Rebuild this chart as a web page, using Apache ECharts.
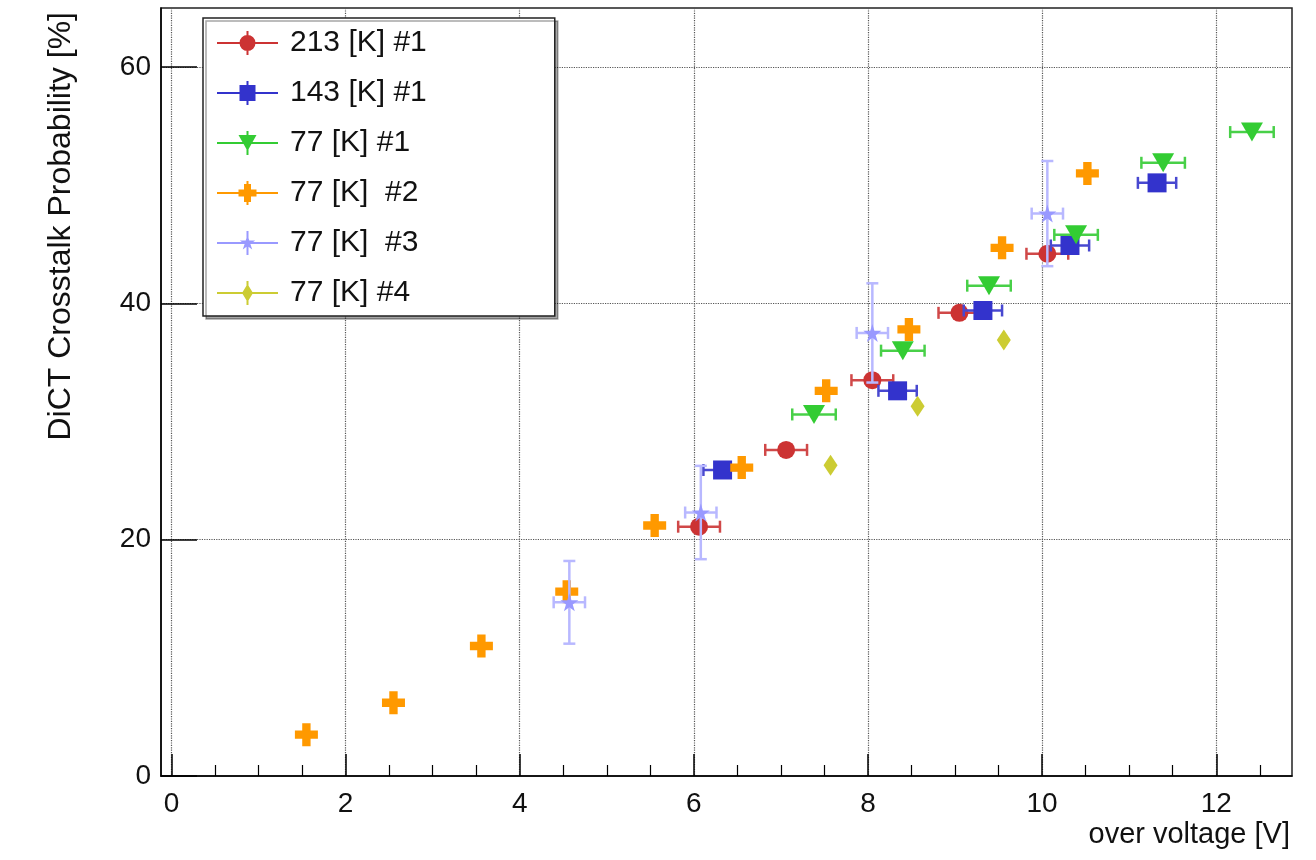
<!DOCTYPE html>
<html>
<head>
<meta charset="utf-8">
<script src="https://cdn.jsdelivr.net/npm/echarts@6/dist/echarts.min.js"></script>
<style>html,body{margin:0;padding:0;background:#fff}#c{width:1316px;height:860px}</style>
</head>
<body>
<div id="c"></div>
<script>
// ---- data ----
const seriesNames = ['213 [K] #1', '143 [K] #1', '77 [K] #1', '77 [K]  #2', '77 [K]  #3', '77 [K] #4'];

const redX = [6.06, 7.06, 8.05, 9.05, 10.06];
const redY = [21.1, 27.6, 33.5, 39.2, 44.2];
const redXErr = [0.24, 0.24, 0.24, 0.24, 0.24];
const redYErr = [0.3, 0.3, 0.3, 0.3, 0.3];

const blueX = [6.33, 8.34, 9.32, 10.32, 11.32];
const blueY = [25.9, 32.6, 39.4, 44.9, 50.2];
const blueXErr = [0.22, 0.22, 0.22, 0.22, 0.22];
const blueYErr = [0.3, 0.3, 0.3, 0.3, 0.3];

const greenX = [7.38, 8.40, 9.39, 10.39, 11.39, 12.41];
const greenY = [30.6, 36.0, 41.5, 45.8, 51.9, 54.5];
const greenXErr = [0.25, 0.25, 0.25, 0.25, 0.25, 0.25];
const greenYErr = [0, 0, 0, 0, 0, 0];

const orangeX = [1.55, 2.55, 3.56, 4.54, 5.55, 6.55, 7.52, 8.47, 9.54, 10.52];
const orangeY = [3.5, 6.2, 11.0, 15.6, 21.2, 26.1, 32.6, 37.8, 44.7, 51.0];
const orangeXErr = [0, 0, 0, 0, 0, 0, 0, 0, 0, 0];
const orangeYErr = [0, 0, 0, 0, 0, 0, 0, 0, 0, 0];

const starX = [4.57, 6.08, 8.05, 10.06];
const starY = [14.7, 22.3, 37.5, 47.6];
const starXErr = [0.18, 0.18, 0.18, 0.18];
const starYErr = [3.5, 3.95, 4.2, 4.45];

const oliveX = [7.57, 8.57, 9.56];
const oliveY = [26.3, 31.3, 36.9];
const oliveXErr = [0, 0, 0];
const oliveYErr = [0, 0, 0];

const xMajorTicks = [0, 2, 4, 6, 8, 10, 12];
const xMinorTicks = [0.5, 1, 1.5, 2.5, 3, 3.5, 4.5, 5, 5.5, 6.5, 7, 7.5, 8.5, 9, 9.5, 10.5, 11, 11.5, 12.5];
const yTicks = [0, 20, 40, 60];

// ---- styling ----
const FONT = "'Liberation Sans', Arial, Helvetica, sans-serif";
const colors = ['#cc3333', '#3333cc', '#33cc33', '#ff9900', '#9999ff', '#cccc33'];
const errColors = ['#d04848', '#4848d0', '#48d048', '#ff9900', '#b8b8ff', '#cccc33'];
const starPath = 'path://M50,0 L61,35 L98,35 L68,57 L79,91 L50,70 L21,91 L32,57 L2,35 L39,35 Z';
const crossPath = 'path://M7,0 H15 V7 H22 V15 H15 V22 H7 V15 H0 V7 H7 Z';
const symbols = [
  {symbol: 'circle', size: 18, rotate: 0},
  {symbol: 'rect', size: 19, rotate: 0},
  {symbol: 'triangle', size: [22, 19], rotate: 180},
  {symbol: crossPath, size: 23, rotate: 0},
  {symbol: starPath, size: 18, rotate: 0},
  {symbol: 'diamond', size: [14, 21], rotate: 0}
];

const LINE = 'M0,11 H61 V13 H0 Z ';
const VBAR = 'M29.5,0 H31.5 V24 H29.5 Z ';
const legendIcons = [
  'path://' + LINE + VBAR + 'M22.5,12 A8,8 0 1,1 38.5,12 A8,8 0 1,1 22.5,12 Z',
  'path://' + LINE + VBAR + 'M22.5,4 H38.5 V20 H22.5 Z',
  'path://' + LINE + VBAR + 'M21.5,4 H39.5 L30.5,20 Z',
  'path://' + LINE + VBAR + 'M27,3 H34 V8.5 H39.5 V15.5 H34 V21 H27 V15.5 H21.5 V8.5 H27 Z',
  'path://' + LINE + VBAR + 'M30.5,4 L32.3,9.6 L38.2,9.6 L33.4,13 L35.2,18.5 L30.5,15.1 L25.8,18.5 L27.6,13 L22.8,9.6 L28.7,9.6 Z',
  'path://' + LINE + VBAR + 'M30.5,3 L36,12 L30.5,21 L25,12 Z'
];

const allX = [redX, blueX, greenX, orangeX, starX, oliveX];
const allY = [redY, blueY, greenY, orangeY, starY, oliveY];
const allXE = [redXErr, blueXErr, greenXErr, orangeXErr, starXErr, oliveXErr];
const allYE = [redYErr, blueYErr, greenYErr, orangeYErr, starYErr, oliveYErr];

function errRender(color) {
  return function (params, api) {
    const x = api.value(0), y = api.value(1), dx = api.value(2), dy = api.value(3);
    const children = [];
    const st = {stroke: color, lineWidth: 2.5};
    const cap = 6;
    if (dx > 0) {
      const l = api.coord([x - dx, y]), r = api.coord([x + dx, y]);
      children.push({type: 'line', shape: {x1: l[0], y1: l[1], x2: r[0], y2: r[1]}, style: st});
      children.push({type: 'line', shape: {x1: l[0], y1: l[1] - cap, x2: l[0], y2: l[1] + cap}, style: st});
      children.push({type: 'line', shape: {x1: r[0], y1: r[1] - cap, x2: r[0], y2: r[1] + cap}, style: st});
    }
    if (dy > 0) {
      const t = api.coord([x, y + dy]), b = api.coord([x, y - dy]);
      children.push({type: 'line', shape: {x1: t[0], y1: t[1], x2: b[0], y2: b[1]}, style: st});
      children.push({type: 'line', shape: {x1: t[0] - cap, y1: t[1], x2: t[0] + cap, y2: t[1]}, style: st});
      children.push({type: 'line', shape: {x1: b[0] - cap, y1: b[1], x2: b[0] + cap, y2: b[1]}, style: st});
    }
    return {type: 'group', children: children};
  };
}

const series = [];
for (let s = 0; s < 6; s++) {
  const pts = allX[s].map((v, i) => [v, allY[s][i], allXE[s][i], allYE[s][i]]);
  series.push({
    type: 'custom', name: 'err' + s, xAxisIndex: 0, yAxisIndex: 0,
    renderItem: errRender(errColors[s]), data: pts, encode: {x: 0, y: 1},
    z: 10 + s * 2, silent: true, clip: true
  });
  series.push({
    type: 'scatter', name: seriesNames[s], xAxisIndex: 0, yAxisIndex: 0,
    data: allX[s].map((v, i) => [v, allY[s][i]]),
    symbol: symbols[s].symbol, symbolSize: symbols[s].size, symbolRotate: symbols[s].rotate,
    itemStyle: {color: colors[s], opacity: 1},
    z: 11 + s * 2
  });
}

const labelStyle = {color: '#111', fontFamily: FONT, fontSize: 28};

const option = {
  animation: false,
  backgroundColor: '#fff',
  textStyle: {fontFamily: FONT},
  grid: {left: 161, right: 24, top: 8, bottom: 84, show: true, borderColor: '#222', borderWidth: 1.5, backgroundColor: 'transparent'},
  legend: {
    orient: 'vertical', left: 203, top: 18,
    padding: [10, 128, 8, 14],
    itemWidth: 61, itemHeight: 24, itemGap: 20,
    backgroundColor: '#fff', borderColor: '#222', borderWidth: 1.5,
    shadowColor: 'rgba(0,0,0,0.35)', shadowOffsetX: 3, shadowOffsetY: 3, shadowBlur: 0,
    textStyle: {color: '#111', fontFamily: FONT, fontSize: 30, padding: [0, 0, 0, 7]},
    data: seriesNames.map((n, i) => ({name: n, icon: legendIcons[i]})),
    selectedMode: false
  },
  xAxis: [
    {
      type: 'value', min: -0.12, max: 12.87, splitNumber: 7, position: 'bottom',
      name: 'over voltage [V]', nameLocation: 'end', nameGap: -2,
      nameTextStyle: {color: '#111', fontFamily: FONT, fontSize: 29, align: 'right', verticalAlign: 'top', padding: [44, 0, 0, 0]},
      axisLine: {show: true, onZero: false, lineStyle: {color: '#000', width: 1.5}},
      axisTick: {show: true, inside: true, length: 22, customValues: xMajorTicks, lineStyle: {color: '#000', width: 1.5}},
      axisLabel: Object.assign({margin: 14, customValues: xMajorTicks}, labelStyle),
      splitLine: {show: true, lineStyle: {type: 'dotted', color: '#555', width: 1.2}},
      minorTick: {show: false}
    },
    {
      type: 'value', min: -0.12, max: 12.87, position: 'bottom',
      axisLine: {show: false},
      axisTick: {show: true, inside: true, length: 11, customValues: xMinorTicks, lineStyle: {color: '#000', width: 1.2}},
      axisLabel: {show: false},
      splitLine: {show: false}
    }
  ],
  yAxis: [{
    type: 'value', min: 0, max: 65, interval: 20,
    name: 'DiCT Crosstalk Probability [%]', nameLocation: 'end', nameGap: -4, nameRotate: 90,
    nameTextStyle: {color: '#111', fontFamily: FONT, fontSize: 32, align: 'right', verticalAlign: 'bottom', padding: [0, 0, 84, 0]},
    axisLine: {show: true, onZero: false, lineStyle: {color: '#000', width: 1.5}},
    axisTick: {show: true, inside: true, length: 36, customValues: yTicks, lineStyle: {color: '#000', width: 1.5}},
    axisLabel: Object.assign({margin: 10, customValues: yTicks}, labelStyle),
    splitLine: {show: true, lineStyle: {type: 'dotted', color: '#555', width: 1.2}}
  }],
  series: series
};

const chart = echarts.init(document.getElementById('c'), null, {renderer: 'canvas'});
chart.setOption(option);
</script>
</body>
</html>
